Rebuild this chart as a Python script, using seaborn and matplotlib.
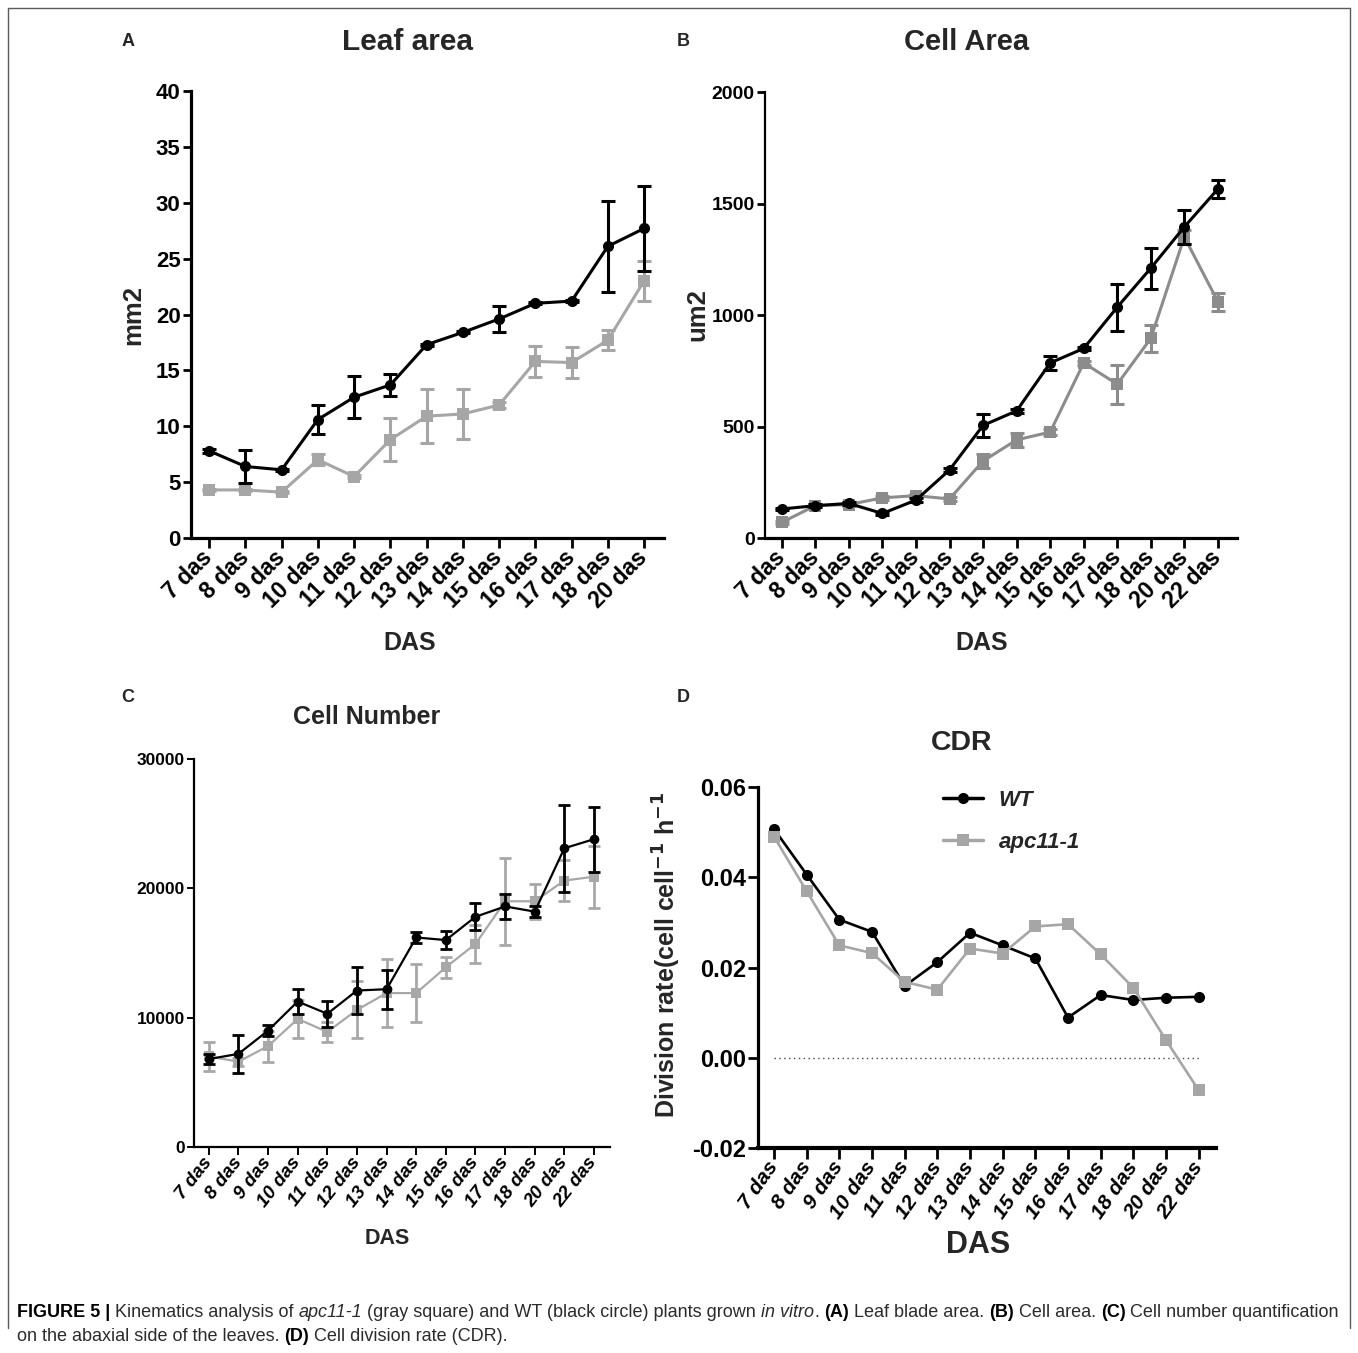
import re
import numpy as np
import pandas as pd
import matplotlib
matplotlib.use('Agg')
import matplotlib.pyplot as plt
import seaborn as sns
from matplotlib.lines import Line2D
from matplotlib import font_manager

W, H = 1358, 1353

# ---------------- data ----------------
A_days = ['7 das', '8 das', '9 das', '10 das', '11 das', '12 das', '13 das',
          '14 das', '15 das', '16 das', '17 das', '18 das', '20 das']
A_wt = [7.8, 6.4, 6.1, 10.6, 12.6, 13.7, 17.3, 18.4, 19.6, 21.0, 21.2, 26.1, 27.7]
A_wt_err = [0.2, 1.5, 0.1, 1.3, 1.9, 1.0, 0.1, 0.1, 1.2, 0.1, 0.1, 4.1, 3.8]
A_apc = [4.3, 4.3, 4.1, 7.0, 5.5, 8.8, 10.9, 11.1, 11.9, 15.8, 15.7, 17.7, 23.0]
A_apc_err = [0.1, 0.1, 0.1, 0.5, 0.1, 1.9, 2.4, 2.2, 0.3, 1.4, 1.4, 0.9, 1.8]

days14 = ['7 das', '8 das', '9 das', '10 das', '11 das', '12 das', '13 das',
          '14 das', '15 das', '16 das', '17 das', '18 das', '20 das', '22 das']

B_wt = [130, 145, 155, 110, 170, 305, 505, 570, 785, 850, 1035, 1210, 1395, 1565]
B_wt_err = [5, 8, 8, 5, 8, 8, 50, 8, 30, 8, 105, 92, 75, 42]
B_apc = [70, 145, 150, 180, 190, 175, 345, 440, 475, 785, 690, 895, 1350, 1060]
B_apc_err = [8, 8, 8, 8, 8, 8, 32, 30, 12, 8, 88, 60, 30, 40]

C_wt = [6800, 7200, 9000, 11250, 10300, 12100, 12200, 16200, 16000, 17800, 18600, 18200, 23100, 23800]
C_wt_err = [400, 1450, 400, 950, 1000, 1800, 1500, 400, 700, 1050, 1000, 400, 3350, 2500]
C_apc = [7000, 6600, 7800, 9900, 8900, 10600, 11900, 11900, 13900, 15700, 19000, 19000, 20600, 20900]
C_apc_err = [1100, 300, 1200, 1500, 800, 2200, 2600, 2250, 800, 1500, 3350, 1350, 1600, 2400]

D_wt = [0.0507, 0.0406, 0.0306, 0.0279, 0.0159, 0.0212, 0.0277, 0.0249, 0.0220,
        0.0089, 0.0139, 0.0128, 0.0133, 0.0135]
D_apc = [0.0490, 0.0369, 0.0249, 0.0232, 0.0168, 0.0151, 0.0242, 0.0231, 0.0291,
         0.0296, 0.0229, 0.0155, 0.0039, -0.0072]

A_yticks = [0, 5, 10, 15, 20, 25, 30, 35, 40]
B_yticks = [0, 500, 1000, 1500, 2000]
C_yticks = [0, 10000, 20000, 30000]
D_yticks = [-0.02, 0.00, 0.02, 0.04, 0.06]
D_ytick_labels = ['-0.02', '0.00', '0.02', '0.04', '0.06']

# ---------------- style ----------------
sns.set_theme(style='ticks')
plt.rcParams['font.family'] = ['Liberation Sans', 'DejaVu Sans']
plt.rcParams['axes.unicode_minus'] = False
plt.rcParams['axes.facecolor'] = 'white'

_names = {f.name for f in font_manager.fontManager.ttflist}
NARROW = ['Liberation Sans Narrow'] if 'Liberation Sans Narrow' in _names else ['Liberation Sans']
NARROW = NARROW + ['DejaVu Sans']

fig = plt.figure(figsize=(W / 100, H / 100), dpi=100)
fig.patch.set_facecolor('white')


def rect(l, t, r, b):
    return [l / W, 1 - b / H, (r - l) / W, (b - t) / H]


def panel(ax, days, wt, wt_err, apc, apc_err, gray, lw, ms_c, ms_s, elw, cap,
          gray_top=False):
    n = len(days)
    pos = list(range(n))
    df = pd.DataFrame({'pos': pos * 2,
                       'value': list(wt) + list(apc),
                       'genotype': ['WT'] * n + ['apc11-1'] * n})
    order = ['WT', 'apc11-1'] if gray_top else ['apc11-1', 'WT']
    sns.lineplot(data=df, x='pos', y='value', hue='genotype', style='genotype',
                 hue_order=order, style_order=order,
                 palette={'WT': 'black', 'apc11-1': gray},
                 markers={'WT': 'o', 'apc11-1': 's'}, dashes=False,
                 linewidth=lw, markeredgewidth=0, errorbar=None, legend=False,
                 ax=ax, sort=False)
    z_wt, z_apc = (2, 3) if gray_top else (3, 2)
    for ln in ax.lines:
        if ln.get_marker() == 'o':
            ln.set_markersize(ms_c)
            ln.set_zorder(z_wt)
        else:
            ln.set_markersize(ms_s)
            ln.set_zorder(z_apc)
    if apc_err is not None:
        ax.errorbar(pos, apc, yerr=apc_err, fmt='none', ecolor=gray, elinewidth=elw,
                    capsize=cap, capthick=elw, zorder=z_apc - 0.1)
    if wt_err is not None:
        ax.errorbar(pos, wt, yerr=wt_err, fmt='none', ecolor='black', elinewidth=elw,
                    capsize=cap, capthick=elw, zorder=z_wt - 0.1)
    ax.set_xticks(pos)
    ax.set_xlabel('')
    ax.set_ylabel('')
    sns.despine(ax=ax)
    ax.grid(False)


def style_axes(ax, box, xlim, ylim, yticks, ylabels, ysize, xsize, xrot, xstyle,
               spine_y, spine_x, tick_len_y, tick_len_x, tick_w, days, xpad=3,
               yfamily=None):
    ax.set_xlim(*xlim)
    ax.set_ylim(*ylim)
    ax.set_yticks(yticks)
    ykw = {} if yfamily is None else {'family': yfamily}
    ax.set_yticklabels(ylabels, fontsize=ysize, fontweight='bold', **ykw)
    ax.set_xticklabels(days, rotation=xrot, ha='right', va='center',
                       rotation_mode='anchor', fontsize=xsize, fontweight='bold',
                       fontstyle=xstyle)
    ax.spines['left'].set_linewidth(spine_y)
    ax.spines['bottom'].set_linewidth(spine_x)
    ax.spines['left'].set_color('black')
    ax.spines['bottom'].set_color('black')
    ax.tick_params(axis='y', direction='out', length=tick_len_y, width=tick_w,
                   colors='black', pad=1.5)
    ax.tick_params(axis='x', direction='out', length=tick_len_x, width=tick_w,
                   colors='black', pad=xpad)


def set_lab(ax, box, which, text, xpx, ypx, size, **kw):
    l, t, r, b = box
    xa = (xpx - l) / (r - l)
    ya = (b - ypx) / (b - t)
    if which == 'x':
        lab = ax.set_xlabel(text, fontsize=size, fontweight='bold', **kw)
        ax.xaxis.set_label_coords(xa, ya)
    else:
        lab = ax.set_ylabel(text, fontsize=size, fontweight='bold', **kw)
        ax.yaxis.set_label_coords(xa, ya)
    lab.set_va('center')
    lab.set_ha('center')


def set_title(ax, box, text, xpx, ypx, size):
    l, t, r, b = box
    xa = (xpx - l) / (r - l)
    ya = (b - ypx) / (b - t)
    tt = ax.set_title(text, fontsize=size, fontweight='bold', pad=0, y=ya, va='center')
    tt.set_x(xa)


# ---------------- Panel A ----------------
boxA = (191, 91, 664, 538)
axA = fig.add_axes(rect(*boxA))
panel(axA, A_days, A_wt, A_wt_err, A_apc, A_apc_err, '#A6A6A6', 2.2, 8, 8.5, 2.2, 5)
style_axes(axA, boxA, (-0.5, 12.55), (0, 40), A_yticks, [str(v) for v in A_yticks],
           16, 16.5, 45, 'normal', 2.3, 2.3, 6, 7, 2.0, A_days, xpad=4.5)
set_lab(axA, boxA, 'x', 'DAS', 410, 643, 18)
set_lab(axA, boxA, 'y', 'mm2', 133, 315, 18.5)
set_title(axA, boxA, 'Leaf area', 408, 42, 21.5)

# ---------------- Panel B ----------------
boxB = (765, 92, 1237, 538)
axB = fig.add_axes(rect(*boxB))
panel(axB, days14, B_wt, B_wt_err, B_apc, B_apc_err, '#8C8C8C', 2.2, 8, 8, 2.2, 5)
style_axes(axB, boxB, (-0.5, 13.57), (0, 2000), B_yticks, [str(v) for v in B_yticks],
           14, 16.5, 45, 'normal', 1.6, 2.3, 6, 7, 2.0, days14, xpad=4.5)
set_lab(axB, boxB, 'x', 'DAS', 982, 643, 18)
set_lab(axB, boxB, 'y', 'um2', 697, 315, 18.5)
set_title(axB, boxB, 'Cell Area', 967, 42, 21)

# ---------------- Panel C ----------------
boxC = (194, 759, 610, 1147)
axC = fig.add_axes(rect(*boxC))
panel(axC, days14, C_wt, C_wt_err, C_apc, C_apc_err, '#A8A8A8', 1.6, 7, 7, 2.0, 4.5)
style_axes(axC, boxC, (-0.5, 13.54), (0, 30000), C_yticks, [str(v) for v in C_yticks],
           12.5, 13.5, 52, 'italic', 1.6, 1.6, 5, 6, 1.4, days14)
set_lab(axC, boxC, 'x', 'DAS', 387, 1238, 15.5)
set_title(axC, boxC, 'Cell Number', 367, 717, 18)

# ---------------- Panel D ----------------
boxD = (758, 787, 1216, 1148)
axD = fig.add_axes(rect(*boxD))
panel(axD, days14, D_wt, None, D_apc, None, '#A6A6A6', 1.9, 8, 8, 2.0, 4, gray_top=True)
axD.hlines(0, 0, len(days14) - 1, colors='#444444', linestyles=(0, (1, 2.5)), lw=1.0,
           zorder=1)
style_axes(axD, boxD, (-0.49, 13.53), (-0.02, 0.06), D_yticks, D_ytick_labels,
           17, 15, 55, 'italic', 2.3, 3.0, 7, 8, 2.0, days14)
set_lab(axD, boxD, 'x', 'DAS', 978, 1245, 22, family=NARROW)
set_lab(axD, boxD, 'y', r'Division rate(cell cell$^{\mathbf{-1}}$ h$^{\mathbf{-1}}$',
        667, 955, 18)
set_title(axD, boxD, 'CDR', 962, 743, 20.5)

leg_handles = [Line2D([], [], color='black', marker='o', markersize=8, lw=2.5,
                      markeredgewidth=0),
               Line2D([], [], color='#A6A6A6', marker='s', markersize=8, lw=2.5,
                      markeredgewidth=0)]
leg = axD.legend(leg_handles, ['WT', 'apc11-1'], loc='upper left',
                 bbox_to_anchor=(943 / W, 1 - 790 / H), bbox_transform=fig.transFigure,
                 frameon=False, borderpad=0, borderaxespad=0, handlelength=1.8,
                 handletextpad=0.7, labelspacing=0.95,
                 prop={'size': 16, 'weight': 'bold', 'style': 'italic'})

# ---------------- panel letters ----------------
for letter, xp, yp in [('A', 128, 42), ('B', 683, 42), ('C', 128, 698), ('D', 683, 698)]:
    fig.text(xp / W, 1 - yp / H, letter, fontsize=13, fontweight='bold', ha='center',
             va='center')

# ---------------- frame ----------------
frame_kw = dict(color='#5a5a5a', lw=1.0, transform=fig.transFigure)
fig.add_artist(Line2D([8 / W, 1350 / W], [1 - 8 / H, 1 - 8 / H], **frame_kw))
fig.add_artist(Line2D([8 / W, 8 / W], [1 - 8 / H, 1 - 1328 / H], **frame_kw))
fig.add_artist(Line2D([1350 / W, 1350 / W], [1 - 8 / H, 1 - 1328 / H], **frame_kw))

# ---------------- caption ----------------
TXT = '#2b2b2b'
cap1 = [('FIGURE 5 |', 'bold', 'normal', 'black'),
        ('Kinematics analysis of', 'normal', 'normal', TXT),
        ('apc11-1', 'normal', 'italic', TXT),
        ('(gray square) and WT (black circle) plants grown', 'normal', 'normal', TXT),
        ('in vitro', 'normal', 'italic', TXT),
        ('.', 'normal', 'normal', TXT),
        ('(A)', 'bold', 'normal', 'black'),
        ('Leaf blade area.', 'normal', 'normal', TXT),
        ('(B)', 'bold', 'normal', 'black'),
        ('Cell area.', 'normal', 'normal', TXT),
        ('(C)', 'bold', 'normal', 'black'),
        ('Cell number quantification', 'normal', 'normal', TXT)]
cap1_gap = [False, True, True, True, True, False, True, True, True, True, True, True]
cap2 = [('on the abaxial side of the leaves.', 'normal', 'normal', TXT),
        ('(D)', 'bold', 'normal', 'black'),
        ('Cell division rate (CDR).', 'normal', 'normal', TXT)]
cap2_gap = [False, True, True]

renderer = fig.canvas.get_renderer()
CAP_FAMILY = ['Liberation Sans', 'DejaVu Sans']


def text_width(s, size, weight, style):
    t = fig.text(0, 0, s, fontsize=size, fontweight=weight, fontstyle=style,
                 family=CAP_FAMILY)
    w = t.get_window_extent(renderer).width
    t.remove()
    return w


def space_width(size):
    return text_width('x x', size, 'normal', 'normal') - text_width('xx', size, 'normal', 'normal')


def rich_line(x_px, y_px, segs, gaps, size, draw=True):
    x = x_px
    sp = space_width(size)
    for (text, weight, style, color), gap in zip(segs, gaps):
        if gap:
            x += sp
        if draw:
            t = fig.text(x / W, 1 - y_px / H, text, fontsize=size, fontweight=weight,
                         fontstyle=style, color=color, ha='left', va='baseline',
                         family=CAP_FAMILY)
            x = t.get_window_extent(renderer).x1
        else:
            x += text_width(text, size, weight, style)
    return x - x_px


base = 12.0
w1 = rich_line(17, 1318, cap1, cap1_gap, base, draw=False)
cap_size = base * (1323.0 / w1)
rich_line(17, 1317, cap1, cap1_gap, cap_size)
rich_line(17, 1341, cap2, cap2_gap, cap_size)

fig.savefig('out.png', dpi=100, facecolor='white')
